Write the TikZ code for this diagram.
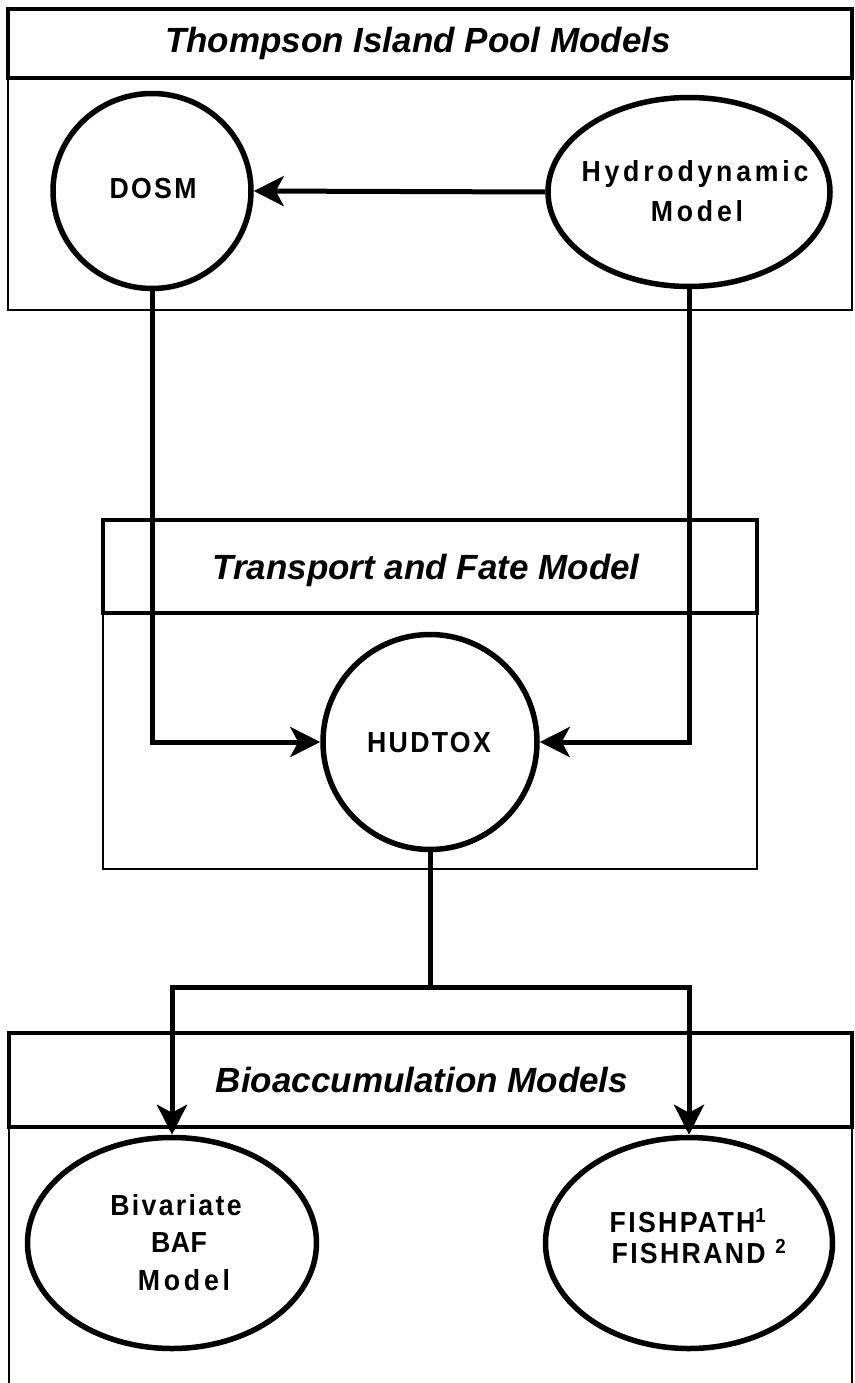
\documentclass[tikz,border=0pt]{standalone}
\usepackage{fontspec}
\setmainfont{Liberation Sans}
\newfontfamily\lblfont[FakeStretch=0.92,LetterSpace=8]{Liberation Sans}
\newfontfamily\widefont[FakeStretch=0.92,LetterSpace=13]{Liberation Sans}
\newfontfamily\tightfont[FakeStretch=0.92,LetterSpace=2]{Liberation Sans}
\usetikzlibrary{arrows.meta,shapes.geometric}
\begin{document}
\begin{tikzpicture}[x=1pt,y=-1pt,
  model/.style={draw,ellipse,line width=5.5pt,inner sep=0pt},
  conn/.style={line width=5pt},
  arr/.style={conn,-{Stealth[length=30pt,width=30pt,inset=8pt]}},
  band/.style={draw,line width=4pt},
  side/.style={line width=2pt},
  title/.style={font=\fontsize{35}{40}\selectfont\bfseries\itshape,anchor=base,inner sep=0pt},
  txt/.style={font=\fontsize{29}{34}\selectfont\bfseries\lblfont,anchor=base,inner sep=0pt},
  txtw/.style={txt,font=\fontsize{29}{34}\selectfont\bfseries\widefont},
  txtt/.style={txt,font=\fontsize{29}{34}\selectfont\bfseries\tightfont}
]
\useasboundingbox (0,0) rectangle (854,1383);

% boxes
\draw[side] (8,78) rectangle (852,310);
\draw[band] (8,9) rectangle (852,78);
\draw[side] (103,613) rectangle (757,869);
\draw[band] (103,520) rectangle (757,613);
\draw[side] (9,1127) -- (9,1395);
\draw[side] (852,1127) -- (852,1395);
\draw[band] (9,1033) rectangle (852,1127);

% titles
\node[title] (t1) at (418,53) {Thompson Island Pool Models};
\node[title] (t2) at (426,579) {Transport and Fate Model};
\node[title] (t3) at (422,1092) {Bioaccumulation Models};

% models
\node[model,minimum width=198pt,minimum height=195pt] (dosm) at (152,191) {};
\node[model,minimum width=282pt,minimum height=189pt] (hyd) at (689,192) {};
\node[model,minimum width=214pt,minimum height=215pt] (hud) at (430,742) {};
\node[model,minimum width=289pt,minimum height=211pt] (biv) at (172,1243) {};
\node[model,minimum width=287pt,minimum height=211pt] (fish) at (689,1243) {};

% labels
\node[txt] (dosmL) at (153,199) {DOSM};
\node[txtw] (hydL1) at (695,182) {Hydrodynamic};
\node[txtw] (hydL2) at (697,222) {Model};
\node[txt] (hudL) at (429,752) {HUDTOX};
\node[txt] (bivL1) at (176,1215) {Bivariate};
\node[txtt] (bivL2) at (179,1252) {BAF};
\node[txtw] (bivL3) at (184,1290) {Model};
\node[txt] (fishL1) at (688,1232) {FISHPATH\textsuperscript{1}};
\node[txt] (fishL2) at (699,1263) {FISHRAND \textsuperscript{2}};

% connectors
\draw[arr] (hyd.west) -- (dosm.east);
\draw[arr] (dosm.south) -- (dosm.south |- hud.west) -- (hud.west);
\draw[arr] (hyd.south) -- (hyd.south |- hud.east) -- (hud.east);
\coordinate (br) at (430,987);
\draw[conn] (hud.south) -- (br);
\draw[arr] (br) -| (biv.north);
\draw[arr] (br) -| (fish.north);
\end{tikzpicture}
\end{document}
